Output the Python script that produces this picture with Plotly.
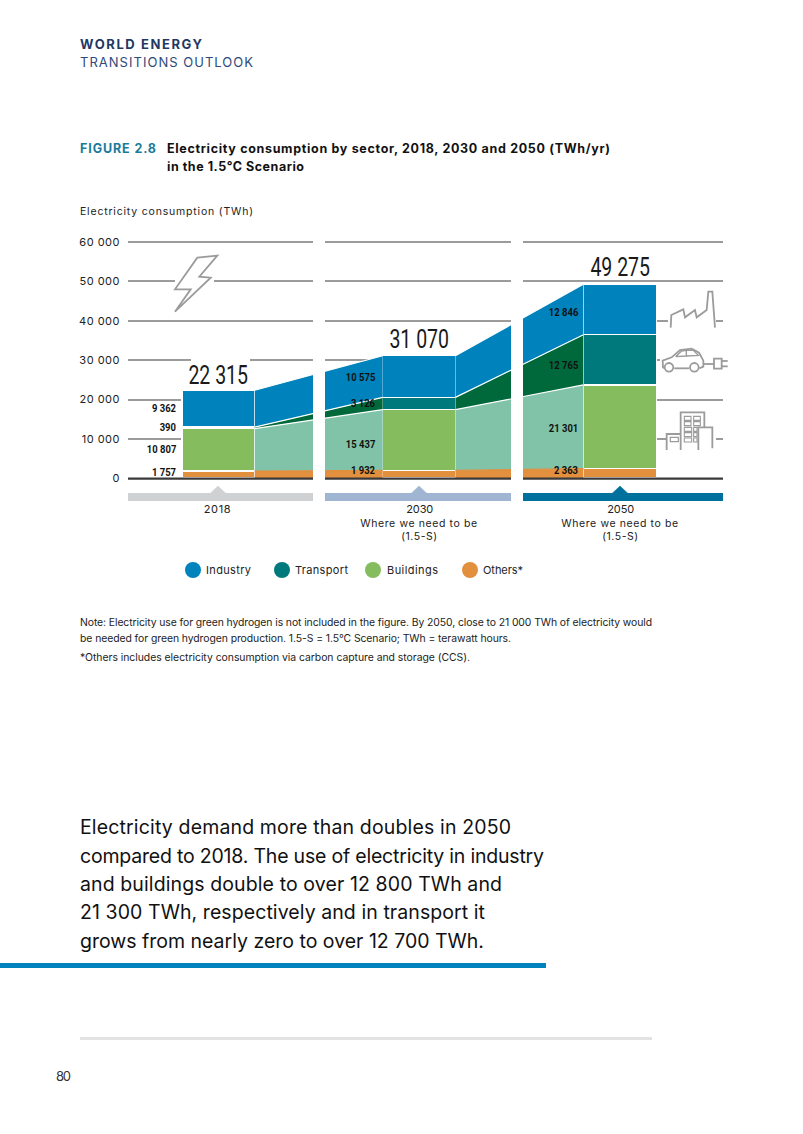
import json
import plotly.graph_objects as go

# ---------- data ----------
years = ["2018", "2030", "2050"]
others = [1757, 1932, 2363]
buildings = [10807, 15437, 21301]
transport = [390, 3126, 12765]
industry = [9362, 10575, 12846]
totals_text = ["22 315", "31 070", "49 275"]
y_ticks = [0, 10000, 20000, 30000, 40000, 50000, 60000]
y_tick_text = ["0", "10 000", "20 000", "30 000", "40 000", "50 000", "60 000"]
column_slots = [0.0, 2.76, 5.52]

COL = dict(ind="#0082BD", tra="#00797D", bui="#85BC5E", oth="#E28F3E")
TRANS = dict(ind="#0082BD", tra="#00693C", bui="#80C3A8", oth="#E28F3E")
series = [("Others*", others, "oth"), ("Buildings", buildings, "bui"),
          ("Transport", transport, "tra"), ("Industry", industry, "ind")]

W, H = 803, 1134
GREY = "#9B9B9B"
SANS = "Inter"
NUM = "Roboto"

def fx(p): return p / W
def fy(p): return 1 - p / H

def space(v):
    return f"{v:,}".replace(",", " ")

fig = go.Figure()

# transition areas
for g, (a, b) in enumerate([(0, 1), (1, 2)]):
    for name, vals, key in series:
        line_col = TRANS[key] if key == "oth" else "white"
        fig.add_trace(go.Scatter(
            x=[column_slots[a] + 1, column_slots[b]], y=[vals[a], vals[b]],
            stackgroup=f"t{g}", mode="lines", name=name, showlegend=False,
            line=dict(color=line_col, width=1.2), fillcolor=TRANS[key], hoverinfo="skip"))

# solid columns
for name, vals, key in series:
    fig.add_trace(go.Bar(
        x=[s + 0.5 for s in column_slots], y=vals, width=1, name=name, showlegend=False,
        marker=dict(color=COL[key], line=dict(color="white", width=1.2))))

shapes, ann = [], []
fit = {}

def seg(x0, x1, y, color=GREY, w=2, layer="below"):
    shapes.append(dict(type="line", xref="paper", yref="paper", x0=fx(x0), x1=fx(x1),
                       y0=fy(y), y1=fy(y), line=dict(color=color, width=w), layer=layer))

def rect(x0, y0, x1, y1, color, layer="above"):
    shapes.append(dict(type="rect", xref="paper", yref="paper", x0=fx(x0), x1=fx(x1),
                       y0=fy(y0), y1=fy(y1), fillcolor=color, line=dict(width=0), layer=layer))

def path(points, color=GREY, w=1.8, close=False, fill=None):
    d = "M " + " L ".join(f"{fx(x):.5f},{fy(y):.5f}" for x, y in points) + (" Z" if close else "")
    s = dict(type="path", xref="paper", yref="paper", path=d, line=dict(color=color, width=w), layer="above")
    if fill:
        s["fillcolor"] = fill
    shapes.append(s)

def text(x, y, t, size, color="#1a1a1a", font=SANS, anchor="left", width=None, bold=False):
    ann.append(dict(xref="paper", yref="paper", x=fx(x), y=fy(y), text=f"<b>{t}</b>" if bold else t,
                    showarrow=False, xanchor=anchor, yanchor="middle", align=anchor,
                    font=dict(family=font, size=size, color=color), borderpad=0, borderwidth=0))
    if width:
        fit[t] = width

# gridline segments per panel
for y, spans in {
    242: [(128, 313), (325, 511), (523, 723)],
    281: [(128, 175), (214, 313), (325, 511), (523, 723)],
    321: [(128, 313), (325, 511), (523, 600), (657, 668), (716, 723)],
    360: [(128, 191), (250, 313), (325, 400), (523, 600), (657, 660)],
    400: [(128, 182), (657, 723)],
    439: [(128, 182), (657, 666), (716, 723)],
}.items():
    for a, b in spans:
        seg(a, b, y)

# white gaps between panels
rect(313, 240, 325, 478, "white")
rect(511, 240, 523, 478, "white")

# baseline + bands
for (a, b, c, tri) in [(128, 313, "#CFD1D2", 218), (325, 511, "#9FB5D1", 419), (523, 723, "#00719C", 620)]:
    seg(a, b, 478.7, color="#3A3A3A", w=2.2, layer="above")
    rect(a, 493, b, 501, c)
    path([(tri - 8, 493.5), (tri, 486), (tri + 8, 493.5)], color=c, w=0.5, close=True, fill=c)

# bolt icon
path([(197.3, 257.7), (217.3, 255.7), (199.3, 276.7), (210.7, 277.7), (175, 311.7), (190.7, 289.3), (175, 289.3)],
     close=True, fill="white")

def z(pts):
    return [(515 + a / 3, 230 + b / 3) for a, b in pts]

# factory
path(z([(467, 293), (469, 255), (505, 238), (510, 262), (540, 240), (545, 262), (575, 240), (580, 185), (592, 185), (600, 293)]))
# car
path(z([(450, 415), (444, 412), (443, 392), (470, 382), (495, 360), (530, 356), (552, 368), (565, 392), (565, 410), (553, 415)]))
path(z([(478, 415), (522, 415)]))
path(z([(482, 380), (500, 363), (514, 361), (514, 378), (482, 380)]), w=1.4)
path(z([(514, 361), (535, 361), (550, 376), (514, 378)]), w=1.4)
for cx in (462, 538):
    shapes.append(dict(type="circle", xref="paper", yref="paper",
                       x0=fx(515 + (cx - 13) / 3), x1=fx(515 + (cx + 13) / 3),
                       y0=fy(230 + (412 - 13) / 3), y1=fy(230 + (412 + 13) / 3),
                       line=dict(color=GREY, width=1.8), fillcolor="white", layer="above"))
path(z([(565, 402), (597, 402)]))
path(z([(597, 386), (620, 386), (620, 416), (597, 416)]), close=True)
path(z([(620, 393), (638, 393)]))
path(z([(620, 409), (638, 409)]))
# buildings
path(z([(455, 660), (455, 612), (497, 612)]))
path(z([(497, 660), (497, 547), (568, 547), (568, 592)]))
path(z([(550, 660), (550, 592), (592, 592), (592, 655)]))
path(z([(466, 622), (490, 622), (490, 635), (466, 635)]), close=True, w=1.2)
for cx in (518, 546):
    for cy in (565, 581):
        path(z([(cx - 10, cy - 6), (cx + 10, cy - 6), (cx + 10, cy + 6), (cx - 10, cy + 6)]), close=True, w=1.1)
for cy in (598, 614, 630):
    path(z([(508, cy - 6), (530, cy - 6), (530, cy + 6), (508, cy + 6)]), close=True, w=1.1)
    path(z([(536, cy - 6), (546, cy - 6), (546, cy + 6), (536, cy + 6)]), close=True, w=1.1)

# totals: sit on top of each column
for i, (t, sh) in enumerate(zip(totals_text, (-2, 0, 0))):
    total = others[i] + buildings[i] + transport[i] + industry[i]
    ann.append(dict(xref="x", yref="y", x=column_slots[i] + 0.5, y=total, yshift=sh, yanchor="bottom",
                    text=t, showarrow=False, font=dict(family=NUM, size=25, color="#1a1a1a")))

# sector labels
label_x = [176, 375, 578]
label_y = {"ind": [408, 378, 312], "tra": [427, 403, 365], "bui": [450, 444, 428], "oth": [472, 470, 470]}
for name, vals, key in series:
    for i, v in enumerate(vals):
        text(label_x[i], label_y[key][i], space(v), 11, "#111111", NUM, "right", bold=True)

# headers
text(80, 44, "WORLD ENERGY", 13, "#1F3864", width=122, bold=True)
text(80, 62, "TRANSITIONS OUTLOOK", 13, "#2F4A7A", width=173)
text(80, 148, "FIGURE 2.8", 12.5, "#1A7B9C", width=76, bold=True)
text(167, 148, "Electricity consumption by sector, 2018, 2030 and 2050 (TWh/yr)", 12.5, "#111111", width=443, bold=True)
text(167, 166, "in the 1.5°C Scenario", 12.5, "#111111", width=137, bold=True)
text(80, 211, "Electricity consumption (TWh)", 10.5, "#222222", width=173)

# x captions
for cx, y_, sub in zip((218, 419, 620), years, (False, True, True)):
    text(cx, 509, y_, 11, "#222222", anchor="center", width=27)
    if sub:
        text(cx, 523, "Where we need to be", 10.5, "#222222", anchor="center", width=117)
        text(cx, 537, "(1.5-S)", 10.5, "#222222", anchor="center", width=36)

# legend
for cx, lx, name, key, wd in [(193, 206, "Industry", "ind", 45), (282, 295, "Transport", "tra", 53),
                              (373, 387, "Buildings", "bui", 51), (470, 483, "Others*", "oth", 40)]:
    shapes.append(dict(type="circle", xref="paper", yref="paper", x0=fx(cx - 8), x1=fx(cx + 8),
                       y0=fy(562), y1=fy(578), fillcolor=COL[key], line=dict(width=0), layer="above"))
    text(lx, 570, name, 11, "#222222", width=wd)

# notes
text(80, 622, "Note: Electricity use for green hydrogen is not included in the figure. By 2050, close to 21 000 TWh of electricity would", 10.4, "#222222", width=572)
text(80, 638, "be needed for green hydrogen production. 1.5-S = 1.5°C Scenario; TWh = terawatt hours.", 10.4, "#222222", width=431)
text(80, 657, "*Others includes electricity consumption via carbon capture and storage (CCS).", 10.4, "#222222", width=390)

# statement
for y_, line, wd in zip((827, 856, 884, 912, 941), (
    "Electricity demand more than doubles in 2050",
    "compared to 2018. The use of electricity in industry",
    "and buildings double to over 12 800 TWh and",
    "21 300 TWh, respectively and in transport it",
    "grows from nearly zero to over 12 700 TWh."), (431, 464, 422, 405, 404)):
    text(80, y_, line, 19.5, "#111111", width=wd)
rect(0, 963, 546, 968, "#0082BD")
rect(80, 1037, 652, 1040, "#E3E3E3")
text(56, 1076, "80", 13, "#333333", width=15)

fig.update_layout(
    width=W, height=H, margin=dict(l=0, r=0, t=0, b=0, autoexpand=False), paper_bgcolor="white",
    plot_bgcolor="rgba(0,0,0,0)", barmode="stack", showlegend=False, shapes=shapes, annotations=ann,
    xaxis=dict(domain=[fx(128), fx(723)], range=[-0.743, 7.44], visible=False, fixedrange=True),
    yaxis=dict(domain=[fy(478), fy(242)], range=[0, 60000], tickvals=y_ticks, ticktext=y_tick_text,
               showgrid=False, zeroline=False, showline=False, ticks="", ticklabelstandoff=7,
               tickfont=dict(family=SANS, size=11, color="#222222"), fixedrange=True),
)

# tracking of the typeset page: stretch each text line to its printed width, squeeze the condensed numerals
script = """
document.body.style.margin='0';
var FIT = %s, TOTALS = %s;
function tune(){
  document.querySelectorAll('.annotation-text').forEach(function(t){
    var s = t.textContent;
    if (FIT[s]) { t.style.letterSpacing='0px';
      var w = t.getComputedTextLength();
      t.style.letterSpacing = ((FIT[s]-w)/Math.max(1,s.length-1)).toFixed(3)+'px'; }
    else if (/^[0-9 ]+$/.test(s)) {
      var big = TOTALS.indexOf(s) >= 0;
      t.style.transformBox='fill-box';
      t.style.transformOrigin = big ? 'center' : 'right center';
      t.style.transform = 'scaleX(' + (big ? 0.78 : 0.86) + ')';
    }
  });
  document.querySelectorAll('.ytick text').forEach(function(t){ t.style.letterSpacing='0.5px'; });
}
tune(); setTimeout(tune, 50);
""" % (json.dumps(fit), json.dumps(totals_text))
fig.write_html("out.html", config=dict(displayModeBar=False), post_script=script)
